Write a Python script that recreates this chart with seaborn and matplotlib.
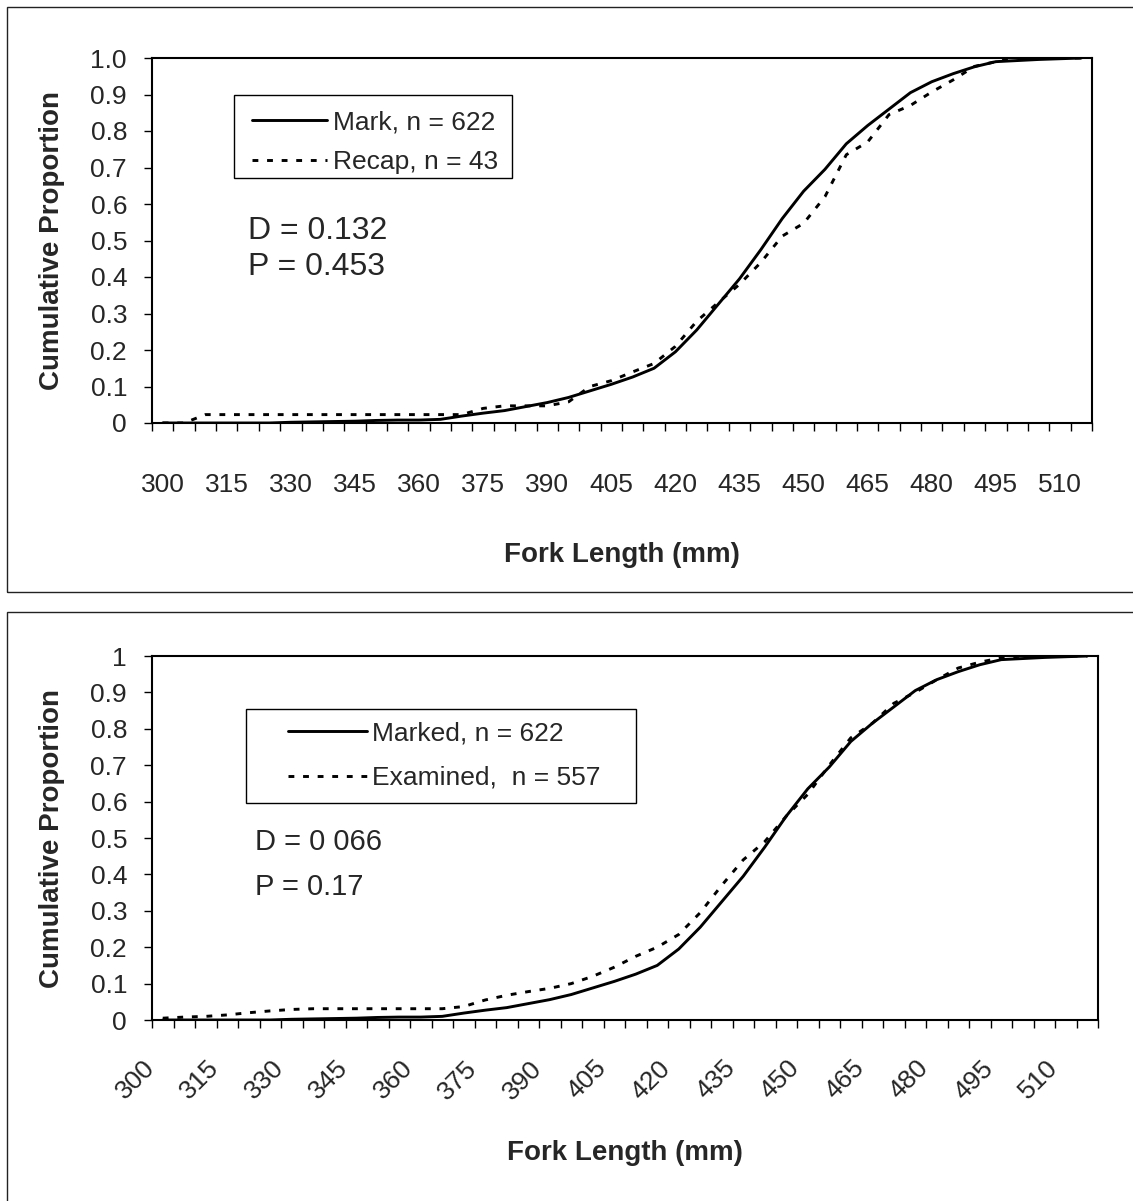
import matplotlib
matplotlib.use("Agg")
import matplotlib.pyplot as plt
import matplotlib.patches as mpatches
from matplotlib.transforms import ScaledTranslation
import pandas as pd
import seaborn as sns

# fork length categories (mm), 5 mm bins
fork_mm = [300, 305, 310, 315, 320, 325, 330, 335, 340, 345, 350,
           355, 360, 365, 370, 375, 380, 385, 390, 395, 400, 405,
           410, 415, 420, 425, 430, 435, 440, 445, 450, 455, 460,
           465, 470, 475, 480, 485, 490, 495, 500, 505, 510, 515]

# cumulative proportion, marked fish (n = 622)
mark_cum = [0, 0, 0, 0, 0, 0, 0.002, 0.003, 0.004, 0.005, 0.007,
            0.008, 0.008, 0.010, 0.019, 0.027, 0.034, 0.045, 0.056, 0.070, 0.088, 0.106,
            0.126, 0.150, 0.195, 0.255, 0.325, 0.395, 0.475, 0.560, 0.635, 0.695, 0.765,
            0.815, 0.860, 0.905, 0.935, 0.957, 0.976, 0.990, 0.993, 0.996, 0.998, 1.0]

# cumulative proportion, recaptures (n = 43)
recap_cum = [0, 0, 0.023, 0.023, 0.023, 0.023, 0.023, 0.023, 0.023, 0.023, 0.023,
             0.023, 0.023, 0.023, 0.023, 0.040, 0.047, 0.047, 0.047, 0.058, 0.100, 0.116,
             0.140, 0.163, 0.210, 0.279, 0.330, 0.380, 0.440, 0.512, 0.547, 0.620, 0.735,
             0.770, 0.845, 0.870, 0.907, 0.940, 0.977, 0.990, 1.0, 1.0, 1.0, 1.0]

# cumulative proportion, examined fish (n = 557)
examined_cum = [0.005, 0.008, 0.010, 0.014, 0.020, 0.025, 0.029, 0.031, 0.031, 0.031, 0.031,
                0.031, 0.031, 0.031, 0.037, 0.055, 0.068, 0.078, 0.087, 0.100, 0.120, 0.145,
                0.175, 0.200, 0.235, 0.295, 0.370, 0.440, 0.490, 0.560, 0.620, 0.700, 0.775,
                0.815, 0.870, 0.900, 0.935, 0.967, 0.983, 0.995, 1.0, 1.0, 1.0, 1.0]

x_labels = [300, 315, 330, 345, 360, 375, 390, 405, 420, 435, 450, 465, 480, 495, 510]
y_ticks = [0, 0.1, 0.2, 0.3, 0.4, 0.5, 0.6, 0.7, 0.8, 0.9, 1.0]
y_labels_top = ["0", "0.1", "0.2", "0.3", "0.4", "0.5", "0.6", "0.7", "0.8", "0.9", "1.0"]
y_labels_bottom = ["0", "0.1", "0.2", "0.3", "0.4", "0.5", "0.6", "0.7", "0.8", "0.9", "1"]

sns.set_style("ticks")
plt.rcParams["font.family"] = ["Liberation Sans", "DejaVu Sans"]

W, H = 1133, 1201
fig = plt.figure(figsize=(W / 100, H / 100), dpi=100)

# panel frames around each chart
for top, bottom in [(7, 592), (612, 1210)]:
    fig.add_artist(mpatches.Rectangle((7 / W, 1 - bottom / H), 1.2, (bottom - top) / H,
                                      transform=fig.transFigure, fill=False,
                                      edgecolor="#222222", linewidth=1.0))


def style_axes(ax, ylabels):
    ax.set_xlim(297.5, 517.5)
    ax.set_ylim(0, 1.0)
    ax.set_xticks(x_labels)
    ax.set_xticklabels([str(v) for v in x_labels], fontsize=19)
    ax.set_xticks([297.5 + 5 * k for k in range(45)], minor=True)
    ax.set_yticks(y_ticks)
    ax.set_yticklabels(ylabels, fontsize=19)
    ax.tick_params(axis="x", which="major", length=0)
    ax.tick_params(axis="x", which="minor", length=6, width=1, direction="out", color="black")
    ax.tick_params(axis="y", length=6, width=1, direction="out", color="black", pad=12)
    for sp in ax.spines.values():
        sp.set_visible(True)
        sp.set_color("black")
        sp.set_linewidth(1.5)
    ax.set_xlabel("Fork Length (mm)", fontsize=20, fontweight="bold")
    ax.set_ylabel("Cumulative Proportion", fontsize=20, fontweight="bold")


def draw_lines(ax, y1, y2, lab1, lab2):
    df = pd.DataFrame({"fork": fork_mm, "a": y1, "b": y2})
    sns.lineplot(data=df, x="fork", y="a", ax=ax, color="black", linewidth=2.1,
                 label=lab1, errorbar=None)
    sns.lineplot(data=df, x="fork", y="b", ax=ax, color="black", linewidth=2.1,
                 label=lab2, errorbar=None)
    ax.get_lines()[-1].set_linestyle((0, (2, 3)))


def legend_box(ax, box, anchor, spacing, handlelen):
    # Excel style legend: thin box, line sample running into the text
    ax.add_patch(mpatches.Rectangle(box[:2], box[2], box[3], transform=ax.transAxes,
                                    facecolor="white", edgecolor="black",
                                    linewidth=1.0, zorder=4))
    leg = ax.legend(loc="center left", bbox_to_anchor=anchor, borderaxespad=0,
                    borderpad=0, fontsize=19, frameon=False, handlelength=handlelen,
                    handletextpad=0.2, labelspacing=spacing)
    leg.set_zorder(5)


# ---- top panel: Mark vs Recap
ax1 = fig.add_axes([152 / W, 1 - 423 / H, 940 / W, 365 / H])
draw_lines(ax1, mark_cum, recap_cum, "Mark, n = 622", "Recap, n = 43")
style_axes(ax1, y_labels_top)
ax1.tick_params(axis="x", which="major", pad=36)
ax1.xaxis.set_label_coords(0.5, -0.325)
ax1.yaxis.set_label_coords(-0.0926, 0.5)
legend_box(ax1, (0.0872, 0.6712, 0.2957, 0.2274), (0.1064, 0.7699), 0.6, 2.85)
fig.text(248 / W, 1 - 231 / H, "D = 0.132", fontsize=23, va="center", ha="left")
fig.text(248 / W, 1 - 267 / H, "P = 0.453", fontsize=23, va="center", ha="left")

# ---- bottom panel: Marked vs Examined
ax2 = fig.add_axes([152 / W, 1 - 1020 / H, 946 / W, 364 / H])
draw_lines(ax2, mark_cum, examined_cum, "Marked, n = 622", "Examined,  n = 557")
style_axes(ax2, y_labels_bottom)
ax2.tick_params(axis="x", which="major", pad=32)
for lbl in ax2.get_xticklabels():
    lbl.set_rotation(45)
    lbl.set_ha("right")
    lbl.set_va("center")
    lbl.set_rotation_mode("anchor")
    lbl.set_transform(lbl.get_transform() + ScaledTranslation(-0.12, 0, fig.dpi_scale_trans))
ax2.xaxis.set_label_coords(0.5, -0.33)
ax2.yaxis.set_label_coords(-0.092, 0.5)
legend_box(ax2, (0.0994, 0.5962, 0.4123, 0.2582), (0.1438, 0.7266), 0.78, 3.0)
fig.text(255 / W, 1 - 842 / H, "D = 0 066", fontsize=21, va="center", ha="left")
fig.text(255 / W, 1 - 887 / H, "P = 0.17", fontsize=21, va="center", ha="left")

fig.savefig("out.png", dpi=100)
